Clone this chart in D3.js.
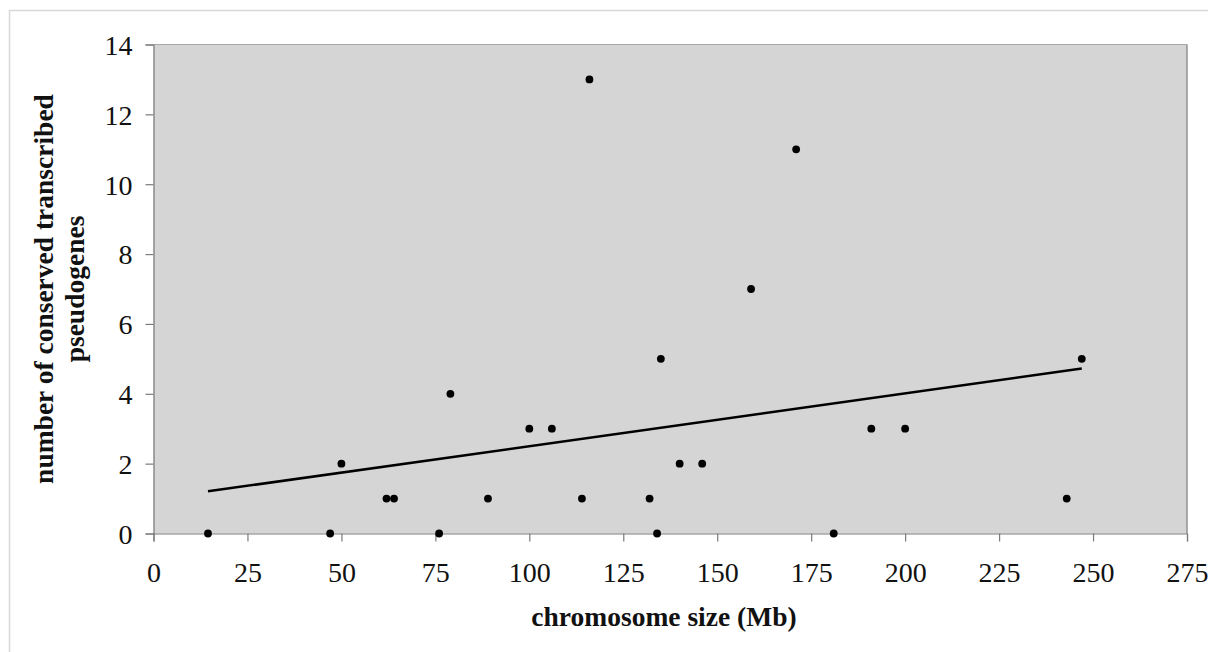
<!DOCTYPE html>
<html><head><meta charset="utf-8">
<script src="https://cdn.jsdelivr.net/npm/d3@7"></script>
<style>body{margin:0;background:#fff}svg{display:block}</style>
</head><body><svg id="c" width="1208" height="652"></svg>
<script>
const sizes = [14.5,47,50,62,64,76,79,89,100,106,114,116,132,134,135,140,146,159,171,181,191,200,243,247];
const counts = [0,0,2,1,1,0,4,1,3,3,1,13,1,0,5,2,2,7,11,0,3,3,1,5];
const xTicks = [0,25,50,75,100,125,150,175,200,225,250,275];
const yTicks = [0,2,4,6,8,10,12,14];
const xTitle = "chromosome size (Mb)";
const yTitle = ["number of conserved transcribed","pseudogenes"];

const svg = d3.select("#c");
const L=153.5, R=1187, T=44.5, B=533.5;
const x = d3.scaleLinear().domain([0,275]).range([L,R]);
const y = d3.scaleLinear().domain([0,14]).range([B,T]);
const font = "'Liberation Serif','Times New Roman',serif";

// outer frame
svg.append("path").attr("d",`M9.5,652 V10.5 H1208`).attr("fill","none").attr("stroke","#d8d8d8").attr("stroke-width",1.5);

// plot area
svg.append("rect").attr("x",L).attr("y",T).attr("width",R-L).attr("height",B-T).attr("fill","#d5d5d5");
svg.append("path").attr("d",`M${L},${T} H${R}`).attr("fill","none").attr("stroke","#a8a8a8").attr("stroke-width",1.2);
svg.append("path").attr("d",`M${R},${T} V${B}`).attr("fill","none").attr("stroke","#8c8c8c").attr("stroke-width",1.4);

// axes
const xa = svg.append("g").attr("transform",`translate(0,${B})`)
  .call(d3.axisBottom(x).tickValues(xTicks).tickSize(8).tickPadding(21).tickFormat(d3.format("d")));
const ya = svg.append("g").attr("transform",`translate(${L},0)`)
  .call(d3.axisLeft(y).tickValues(yTicks).tickSize(8).tickPadding(13).tickFormat(d3.format("d")));
[xa,ya].forEach(g=>{
  g.attr("font-size",null).attr("font-family",null);
  g.selectAll("path,line").attr("stroke","#7a7a7a").attr("stroke-width",1.2);
  g.selectAll("text").attr("font-family",font).attr("font-size",28).attr("fill","#111");
});
ya.selectAll("text").attr("dy","0.35em");

// trend line (least squares)
const n=sizes.length, mx=d3.mean(sizes), my=d3.mean(counts);
let sxy=0,sxx=0; for(let i=0;i<n;i++){sxy+=(sizes[i]-mx)*(counts[i]-my);sxx+=(sizes[i]-mx)**2;}
const slope=sxy/sxx, icpt=my-slope*mx;
const ext=d3.extent(sizes);
svg.append("line").attr("x1",x(ext[0])).attr("y1",y(icpt+slope*ext[0]))
  .attr("x2",x(ext[1])).attr("y2",y(icpt+slope*ext[1]))
  .attr("stroke","#000").attr("stroke-width",2.5);

// points
svg.append("g").selectAll("circle").data(sizes.map((s,i)=>[s,counts[i]])).join("circle")
  .attr("cx",d=>x(d[0])).attr("cy",d=>y(d[1])).attr("r",3.9).attr("fill","#000");

// titles
svg.append("text").attr("x",664).attr("y",626).attr("text-anchor","middle")
  .attr("font-family",font).attr("font-weight","bold").attr("font-size",27.5).attr("fill","#111").text(xTitle);
yTitle.forEach((t,i)=>{
  svg.append("text").attr("transform",`translate(${i?84:53},289) rotate(-90)`)
    .attr("text-anchor","middle").attr("font-family",font).attr("font-weight","bold")
    .attr("font-size",27.5).attr("fill","#111").text(t);
});
</script></body></html>
